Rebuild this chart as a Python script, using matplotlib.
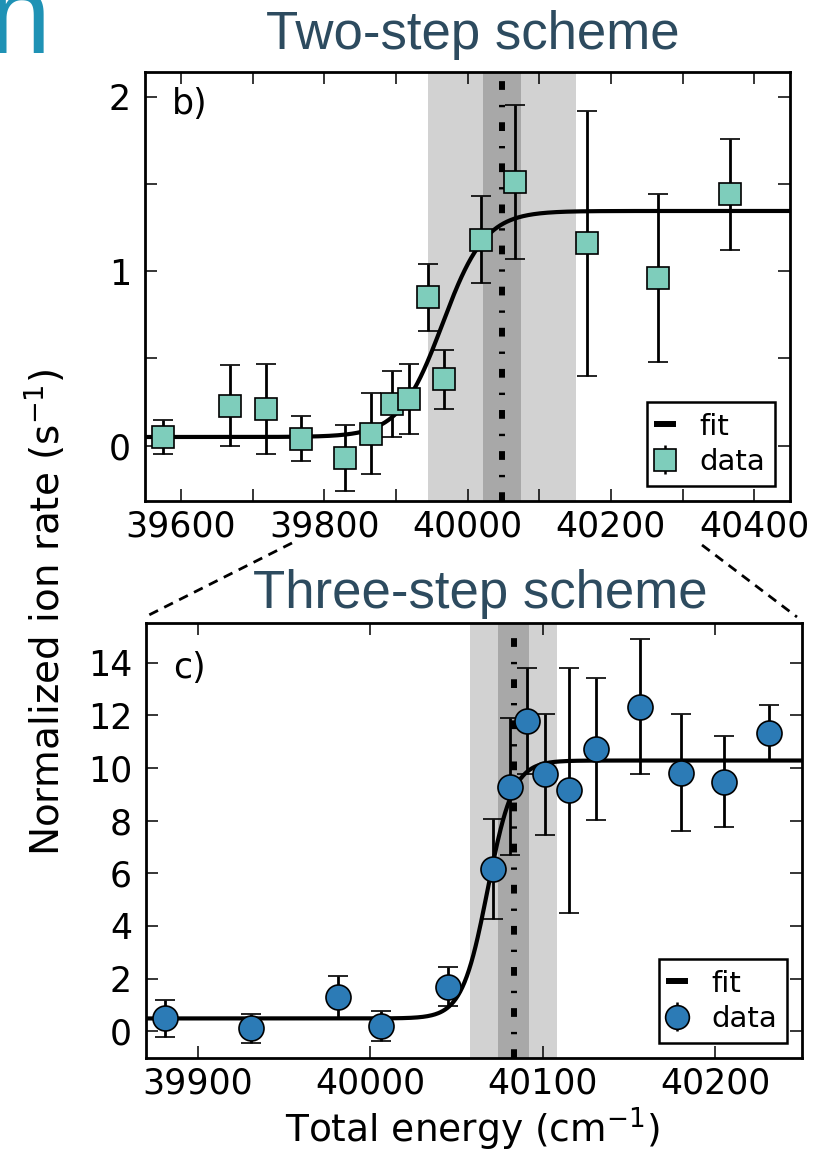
import numpy as np
import matplotlib
matplotlib.use("Agg")
import matplotlib.pyplot as plt
from matplotlib.lines import Line2D

plt.rcParams['font.family'] = ['DejaVu Sans']
plt.rcParams['mathtext.fontset'] = 'dejavusans'
plt.rcParams['lines.scale_dashes'] = False

# ---------------- data ----------------
# panel b: two-step scheme
b_x = [39575, 39668, 39719, 39767, 39829, 39866, 39895, 39918, 39945, 39967,
       40019, 40066, 40167, 40266, 40366]
b_y = [0.05, 0.23, 0.21, 0.04, -0.07, 0.07, 0.24, 0.27, 0.85, 0.38,
       1.18, 1.51, 1.16, 0.96, 1.44]
b_err = [0.10, 0.23, 0.26, 0.13, 0.19, 0.23, 0.19, 0.20, 0.19, 0.17,
         0.25, 0.44, 0.76, 0.48, 0.32]
b_fit = [0.05, 1.345, 39965, 30]          # low, high, centre, width
b_threshold = [40048, 27, 103]             # centre, inner half width, outer half width

# panel c: three-step scheme
c_x = [39881, 39931, 39981, 40006, 40045, 40071, 40081, 40091, 40101, 40115,
       40131, 40156, 40180, 40205, 40231]
c_y = [0.49, 0.11, 1.29, 0.20, 1.70, 6.15, 9.29, 11.78, 9.76, 9.16,
       10.71, 12.33, 9.82, 9.48, 11.32]
c_err = [0.70, 0.55, 0.80, 0.58, 0.75, 1.90, 2.60, 2.00, 2.30, 4.65,
         2.70, 2.58, 2.23, 1.73, 1.05]
c_fit = [0.49, 10.28, 40068, 7.4]
c_threshold = [40083, 9, 25]

b_xticks = [39600, 39700, 39800, 39900, 40000, 40100, 40200, 40300, 40400]
b_xticklabels = ['39600', '', '39800', '', '40000', '', '40200', '', '40400']
b_yticks = [0, 0.5, 1, 1.5, 2]
b_yticklabels = ['0', '', '1', '', '2']
c_xticks = [39900, 40000, 40100, 40200]
c_xticklabels = ['39900', '40000', '40100', '40200']
c_yticks = [0, 2, 4, 6, 8, 10, 12, 14]
c_yticklabels = ['0', '2', '4', '6', '8', '10', '12', '14']

# ---------------- figure ----------------
W, H = 828, 1154
fig = plt.figure(figsize=(W / 100, H / 100), dpi=100)


def fig_rect(l, t, r, b):
    return [l / W, 1 - b / H, (r - l) / W, (b - t) / H]


ax_b = fig.add_axes(fig_rect(145, 71.7, 790, 500.7))
ax_c = fig.add_axes(fig_rect(146, 623, 801.7, 1057.7))

TICK_FS = 25
LEG_FS = 21
title_color = '#2d4b5f'


def logistic(x, p):
    low, high, x0, w = p
    return low + (high - low) / (1 + np.exp(-(x - x0) / w))


def draw_panel(ax, x, y, err, fit, thr, xlim, ylim, marker, mcolor, msize,
               xticks, xticklabels, yticks, yticklabels, tag, tag_y):
    c0, inner, outer = thr
    ax.axvspan(c0 - outer, c0 + outer, color='#d2d2d2', lw=0, zorder=0)
    ax.axvspan(c0 - inner, c0 + inner, color='#a8a8a8', lw=0, zorder=0.5)
    ax.axvline(c0, color='black', lw=4.3,
               linestyle=(0, (6.3, 10.8, 1.7, 10.8)), zorder=1)
    xs = np.linspace(xlim[0], xlim[1], 600)
    ax.plot(xs, logistic(xs, fit), color='black', lw=3.0, zorder=2)
    ax.errorbar(x, y, yerr=err, fmt=marker, ms=msize, mfc=mcolor, mec='black',
                mew=1.2, ecolor='black', elinewidth=2.0, capsize=7,
                capthick=1.8, zorder=3)
    ax.set_xlim(*xlim)
    ax.set_ylim(*ylim)
    ax.set_xticks(xticks)
    ax.set_xticklabels(xticklabels)
    ax.set_yticks(yticks)
    ax.set_yticklabels(yticklabels)
    ax.tick_params(direction='in', top=True, right=True, length=8.5, width=1.1,
                   labelsize=TICK_FS, colors='black')
    ax.tick_params(axis='x', pad=6)
    ax.tick_params(axis='y', pad=10)
    for s in ax.spines.values():
        s.set_linewidth(2.0)
    ax.text(0.042, tag_y, tag, transform=ax.transAxes, fontsize=TICK_FS,
            va='top', ha='left')
    fit_h = Line2D([], [], color='black', lw=4.3)
    data_h = ax.errorbar([], [], yerr=[], fmt=marker, ms=msize * 0.95,
                         mfc=mcolor, mec='black', mew=1.2, ecolor='black',
                         elinewidth=1.8, capsize=6.5, capthick=1.8)
    leg = ax.legend([fit_h, data_h], ['fit', 'data'], loc='lower right',
                    fontsize=LEG_FS, numpoints=1, handlelength=0.55,
                    handletextpad=0.9, fancybox=False, framealpha=1,
                    edgecolor='black', borderpad=0.35, labelspacing=0.25,
                    borderaxespad=0.5)
    leg.get_frame().set_linewidth(1.8)
    leg.set_zorder(5)


draw_panel(ax_b, b_x, b_y, b_err, b_fit, b_threshold, (39550, 40450),
           (-0.315, 2.143), 's', '#7ecdbb', 16, b_xticks, b_xticklabels,
           b_yticks, b_yticklabels, 'b)', 0.965)
draw_panel(ax_c, c_x, c_y, c_err, c_fit, c_threshold, (39870, 40250),
           (-1.0, 15.5), 'o', '#2c7bb6', 18, c_xticks, c_xticklabels,
           c_yticks, c_yticklabels, 'c)', 0.935)

# titles
fig.text(472.5 / W, 1 - 49 / H, 'Two-step scheme', fontsize=38,
         family='Liberation Sans', color=title_color, ha='center',
         va='baseline')
fig.text(480 / W, 1 - 608 / H, 'Three-step scheme', fontsize=38,
         family='Liberation Sans', color=title_color, ha='center',
         va='baseline')
# cropped panel letter at top-left (cut off in the reference too)
fig.text(-11 / W, 1 - 53 / H, 'n', fontsize=80, family='Liberation Sans',
         color='#1f92b5', ha='left', va='baseline')

# axis labels
fig.text(45 / W, 1 - 612 / H, 'Normalized ion rate (s$^{-1}$)',
         fontsize=28, rotation=90, ha='center', va='center')
fig.text(472 / W, 1 - 1142 / H, 'Total energy (cm$^{-1}$)',
         fontsize=27, ha='center', va='baseline')

# dashed zoom connectors
for (x0, y0, x1, y1) in [(292, 543, 145, 617), (702, 545, 797, 617)]:
    fig.add_artist(Line2D([x0 / W, x1 / W], [1 - y0 / H, 1 - y1 / H],
                          transform=fig.transFigure, color='black', lw=2.0,
                          linestyle=(0, (7, 5))))

fig.savefig('out.png', dpi=100)
